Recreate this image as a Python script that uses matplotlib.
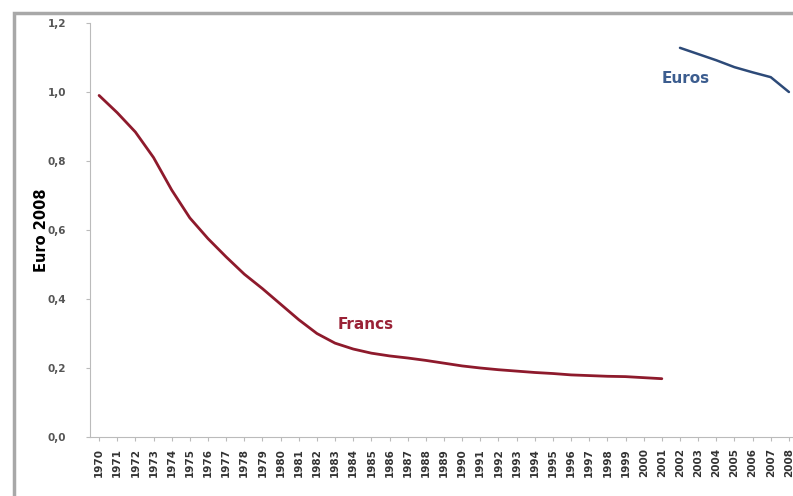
import numpy as np
import matplotlib.pyplot as plt
from matplotlib.patches import Rectangle

# data
years = list(range(1970, 2009))
francs = [0.99, 0.94, 0.884, 0.81, 0.716, 0.635, 0.575, 0.522, 0.472, 0.43,
          0.385, 0.34, 0.30, 0.272, 0.255, 0.243, 0.235, 0.229, 0.222, 0.214,
          0.206, 0.200, 0.195, 0.191, 0.187, 0.184, 0.180, 0.178, 0.176, 0.175,
          0.172, 0.169]
euros = [1.128, 1.11, 1.092, 1.072, 1.057, 1.043, 1.0]
yticks = [0.0, 0.2, 0.4, 0.6, 0.8, 1.0, 1.2]

fig = plt.figure(figsize=(7.93, 4.96), dpi=100)
ax = fig.add_axes([90 / 793, 59 / 496, 704 / 793, 414 / 496])

x_fr = np.arange(len(francs))
x_eu = np.arange(len(francs), len(francs) + len(euros))
ax.plot(x_fr, francs, color='#8e1a2c', lw=2.0, solid_capstyle='round')
ax.plot(x_eu, euros, color='#2d4a78', lw=1.8, solid_capstyle='round')

# series labels
ax.text(14.7, 0.325, "Francs", color='#9a2236', fontsize=11, fontweight='bold',
        ha='center', va='center')
ax.text(32.3, 1.04, "Euros", color='#3c5d8f', fontsize=11, fontweight='bold',
        ha='center', va='center')

ax.set_xlim(-0.5, 38.28)
ax.set_ylim(0, 1.2)
ax.set_xticks(np.arange(len(years)))
ax.set_xticklabels([str(y) for y in years], rotation=90, fontsize=7.5,
                   fontweight='bold')
ax.set_yticks(yticks)
ax.set_yticklabels([f"{v:.1f}".replace('.', ',') for v in yticks], fontsize=7.5,
                   fontweight='bold')
ax.set_ylabel("Euro 2008", fontsize=10.5, fontweight='bold')
ax.yaxis.set_label_coords(-0.058, 0.5)

for s in ['top', 'right']:
    ax.spines[s].set_visible(False)
for s in ['left', 'bottom']:
    ax.spines[s].set_color('#bbbbbb')
ax.tick_params(axis='both', colors='#bbbbbb', length=3)
ax.tick_params(axis='x', pad=5)
ax.tick_params(axis='y', pad=14)
for lab in ax.get_xticklabels():
    lab.set_color('#333333')
for lab in ax.get_yticklabels():
    lab.set_color('#555555')

# outer chart frame
fig.patches.append(Rectangle((14 / 793, -0.1), 1.2, 1 - 13 / 496 + 0.1,
                             transform=fig.transFigure, fill=False,
                             edgecolor='#a8a8a8', lw=2.5))

fig.savefig("out.png", dpi=100)
